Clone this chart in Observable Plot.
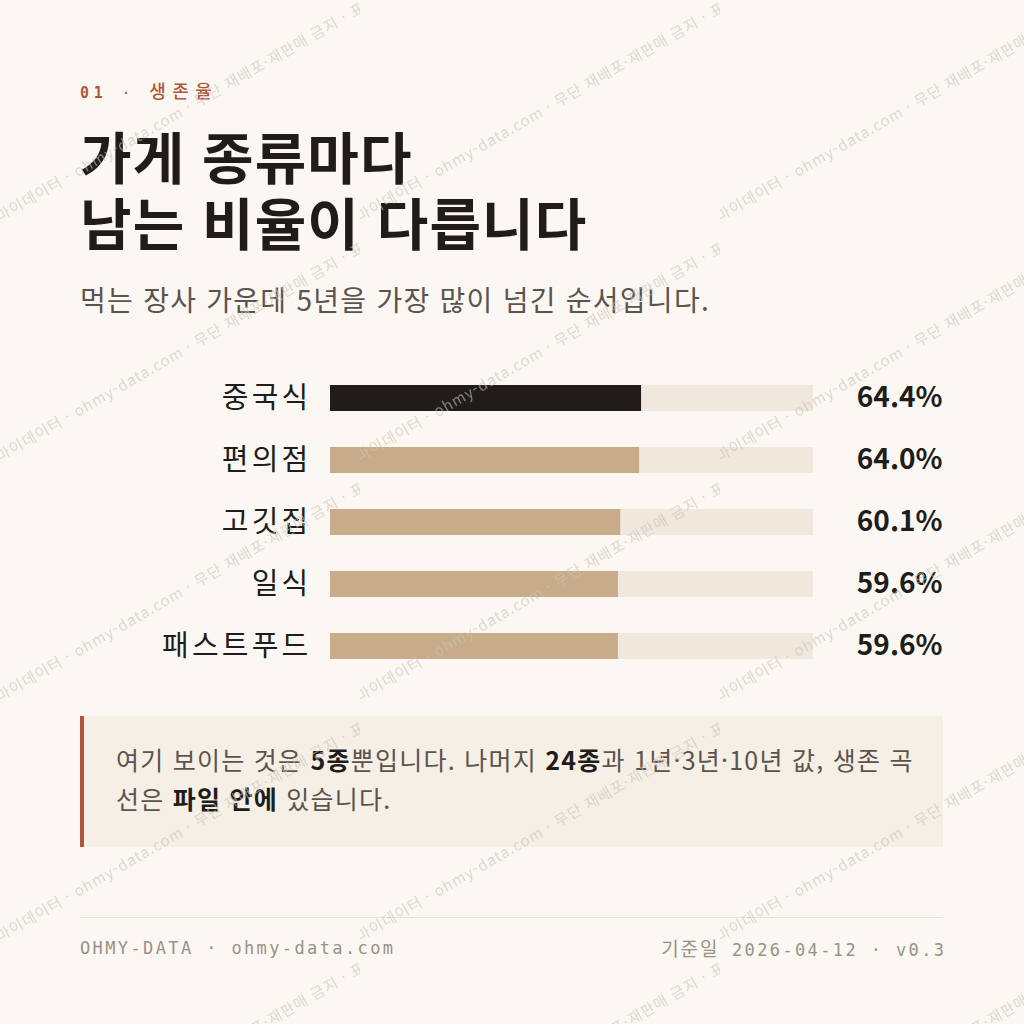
<!DOCTYPE html>
<html lang="ko">
<head>
<meta charset="utf-8">
<script src="https://cdn.jsdelivr.net/npm/d3@7"></script>
<script src="https://cdn.jsdelivr.net/npm/@observablehq/plot@0.6"></script>
<style>
  html, body { margin: 0; padding: 0; }
  body { width: 1024px; height: 1024px; background: #fbf8f3; position: relative; overflow: hidden;
         font-family: "Noto Sans CJK KR", "Noto Sans", sans-serif; color: #201c19; }
  .abs { position: absolute; }
  .eyebrow { left: 80px; top: 80px; font-family: "DejaVu Sans Mono", monospace; font-size: 15px; line-height: 20px;
             letter-spacing: 0.32em; color: #b0563b; white-space: nowrap; }
  .eyebrow b { font-weight: 700; }
  .eyebrow .k { font-family: "Noto Sans CJK KR", sans-serif; font-weight: 500; font-size: 18px; letter-spacing: 6.5px; }
  h1 { margin: 0; left: 80px; top: 122px; font-size: 56px; line-height: 66px; font-weight: 700; letter-spacing: 0.02em; color: #201c19; white-space: nowrap; }
  .sub { left: 80px; top: 281px; font-size: 28px; line-height: 36px; letter-spacing: 0.045em; color: #5b534c; font-weight: 400; white-space: nowrap; }
  #chart { left: 0; top: 367px; }
  #chart svg g[aria-label="y-axis tick label"] text { letter-spacing: 3.2px; }
  .callout { left: 80px; top: 716px; width: 863px; height: 131px; box-sizing: border-box; background: #f6efe6;
             border-left: 4px solid #b0563b; padding: 24px 0 0 32px; font-size: 25px; line-height: 39px; letter-spacing: 0.05em; color: #5b534c; white-space: nowrap; }
  .callout b { color: #201c19; font-weight: 700; }
  .rule { left: 80px; top: 917px; width: 863px; height: 0; border-top: 1.5px solid #e9e2d7; }
  .foot { top: 936px; font-family: "DejaVu Sans Mono", monospace; font-size: 17px; line-height: 24px; letter-spacing: 0.14em; color: #9b9084; white-space: nowrap; }
  .foot.left { left: 80px; }
  .foot.right { right: 80px; margin-right: -2.4px; }
  .foot .k { font-family: "Noto Sans CJK KR", sans-serif; font-size: 19px; letter-spacing: 0.1em; }
  #wm { left: 0; top: 0; pointer-events: none; }
</style>
</head>
<body>
<div class="abs eyebrow"><b>01</b> · <span class="k">생존율</span></div>
<h1 class="abs">가게 종류마다<br>남는 비율이 다릅니다</h1>
<div class="abs sub">먹는 장사 가운데 5년을 가장 많이 넘긴 순서입니다.</div>
<div class="abs" id="chart"></div>
<div class="abs callout">여기 보이는 것은 <b>5종</b>뿐입니다. 나머지 <b>24종</b>과 1년·3년·10년 값, 생존 곡<br>선은 <b>파일 안에</b> 있습니다.</div>
<div class="abs rule"></div>
<div class="abs foot left">OHMY-DATA · ohmy-data.com</div>
<div class="abs foot right"><span class="k">기준일</span> 2026-04-12 · v0.3</div>
<svg class="abs" id="wm" width="1024" height="1024" xmlns="http://www.w3.org/2000/svg">
  <defs>
    <pattern id="wmp" x="0" y="0" width="360" height="240" patternUnits="userSpaceOnUse">
      <text transform="translate(0,222) rotate(-30)" font-family="Noto Sans CJK KR, sans-serif" font-size="15" letter-spacing="1" fill="#c9c1b6" fill-opacity="0.6">마이데이터 · ohmy-data.com · 무단 재배포·재판매 금지 · 표본 데이터</text>
    </pattern>
  </defs>
  <rect width="1024" height="1024" fill="url(#wmp)"></rect>
</svg>
<script>
const categories = ["중국식", "편의점", "고깃집", "일식", "패스트푸드"];
const survival5y = [64.4, 64.0, 60.1, 59.6, 59.6];
const highlightCategory = "중국식";
const trackMax = 100;

const rows = categories.map((category, i) => ({ category, value: survival5y[i] }));

const chart = Plot.plot({
  width: 1024,
  height: 310,
  marginLeft: 330,
  marginRight: 211,
  marginTop: 0,
  marginBottom: 0,
  style: { background: "transparent", fontFamily: "'Noto Sans CJK KR', 'Noto Sans', sans-serif", overflow: "visible" },
  x: { domain: [0, trackMax], axis: null },
  y: { domain: categories, padding: 0, axis: null },
  marks: [
    Plot.barX(rows, { x: () => trackMax, y: "category", fill: "#f0e8dc", insetTop: 18, insetBottom: 18 }),
    Plot.barX(rows, { filter: d => d.category !== highlightCategory, x: "value", y: "category", fill: "#c8ac8a", insetTop: 18, insetBottom: 18 }),
    Plot.barX(rows, { filter: d => d.category === highlightCategory, x: "value", y: "category", fill: "#201c19", insetTop: 18, insetBottom: 18 }),
    Plot.axisY({ tickSize: 0, tickPadding: 19, fontSize: 29, fill: "#201c19", textAnchor: "end", label: null }),
    Plot.text(rows, { x: () => trackMax, y: "category", text: d => d.value.toFixed(1) + "%", textAnchor: "end", dx: 129,
                      fontSize: 28, fontWeight: 700, fill: "#201c19" })
  ]
});
document.getElementById("chart").appendChild(chart);
</script>
</body>
</html>
